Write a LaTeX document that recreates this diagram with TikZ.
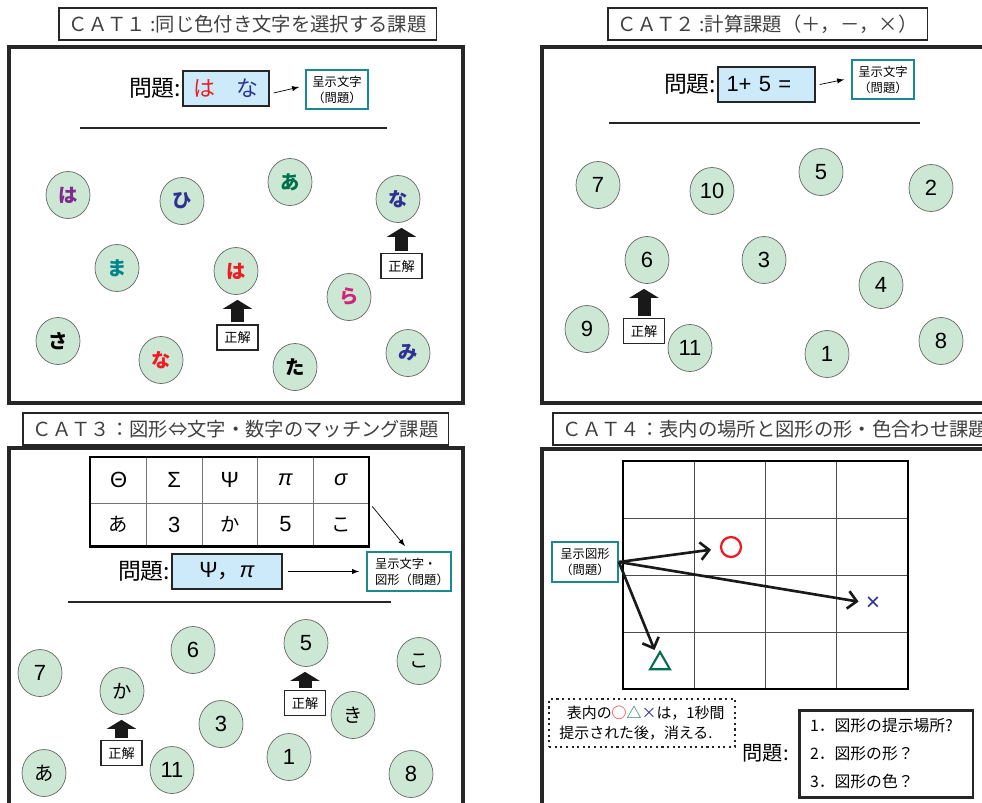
\documentclass[tikz,border=0pt]{standalone}
\usepackage{fontspec}
\setmainfont{Liberation Sans}
\newfontfamily\jp{Noto Sans CJK JP}
\usetikzlibrary{arrows,arrows.meta,shapes,positioning}
\definecolor{ballgreen}{HTML}{CDE7D5}
\definecolor{askblue}{HTML}{CCEAF9}
\definecolor{showteal}{HTML}{1A8A8E}
\definecolor{kpurple}{HTML}{7F2A8C}
\definecolor{knavy}{HTML}{2E3192}
\definecolor{kgreen}{HTML}{00704A}
\definecolor{kteal}{HTML}{00858A}
\definecolor{kred}{HTML}{ED1C24}
\definecolor{kmagenta}{HTML}{D0237A}
\newcommand\kn[1]{{\jp\fontsize{11}{13}\selectfont #1}}
\tikzset{
panel/.style={draw=black!85,line width=2pt},
cattitle/.style={draw=black!85,line width=0.9pt,anchor=west,minimum height=0.64cm,inner xsep=0.2cm,text=black!75,font=\jp\fontsize{11}{13}\selectfont},
ball/.style={ellipse,draw=black!60,fill=ballgreen,minimum width=0.88cm,minimum height=0.94cm,inner sep=0pt},
kanaball/.style={ball,font=\jp\bfseries\fontsize{11}{13}\selectfont},
numball/.style={ball,font=\fontsize{12.5}{14}\selectfont},
qword/.style={inner sep=0.5pt,font=\jp\fontsize{13}{15}\selectfont},
askbox/.style={draw=black!85,line width=0.8pt,fill=askblue,minimum height=0.7cm,inner sep=0pt,font=\fontsize{12.5}{14}\selectfont},
showbox/.style={draw=showteal,line width=1pt,minimum height=0.78cm,inner sep=0pt,align=center,font=\jp\fontsize{7}{9}\selectfont},
okbox/.style={draw=black!85,line width=0.8pt,fill=white,minimum width=0.82cm,minimum height=0.5cm,inner sep=0pt,font=\jp\fontsize{7.5}{9}\selectfont},
okarrow/.style={draw=black!90,line width=0.26cm,-{Triangle[width=0.58cm,length=0.18cm]},shorten >=0.1cm,shorten <=0.04cm},
sepline/.style={draw=black!85,line width=1pt},
cell/.style={draw=black!55,line width=0.5pt,minimum width=1.112cm,inner sep=0pt,font=\fontsize{12.5}{14}\selectfont},
bigarrow/.style={draw=black!90,line width=1.5pt,-{Straight Barb[length=5pt,width=10pt]}}
}
\begin{document}
\begin{tikzpicture}[x=0.02cm,y=-0.02cm]
\useasboundingbox (0,0) rectangle (982,802);

\node[cattitle] (t1) at (58,24) {ＣＡＴ１ :同じ色付き文字を選択する課題};
\draw[panel] (9,47) rectangle (463,403);
\node[askbox,minimum width=1.72cm,font=\jp\fontsize{12.5}{14}\selectfont] (ask1) at (226,88.5) {\textcolor{kred}{は}　\textcolor{knavy}{な}};
\node[qword,left=0pt of ask1] (q1) {問題:};
\node[showbox,minimum width=1.24cm] (show1) at (337,89.5) {呈示文字\\（問題）};
\draw[-latex] ([shift={(4,4.5)}]ask1.east) -- ([shift={(-6,-2.5)}]show1.west);
\draw[sepline] (80,128) -- (387,128);
\foreach \x/\y/\c/\k [count=\i] in {68/195/kpurple/は,182/201/knavy/ひ,290/182/kgreen/あ,398/199/knavy/な,117/268/kteal/ま,236/271/kred/は,349/297/kmagenta/ら,58/341/black/さ,161/360/kred/な,295/367/black/た,408/353/knavy/み}
  \node[kanaball,text=\c] (a\i) at (\x,\y) {\k};
\node[okbox] (ok1a) at (237.5,337.5) {正解};
\node[okbox] (ok1b) at (401.5,266) {正解};
\draw[okarrow] (ok1a.north) -- (ok1a.north |- a6.south);
\draw[okarrow] (ok1b.north) -- (ok1b.north |- a4.south);

\node[cattitle] (t2) at (607,24) {ＣＡＴ２ :計算課題（＋，－，×）};
\draw[panel] (542,47) rectangle (995,403);
\node[askbox,inner xsep=0.17cm,text width=1.6cm,align=left] (ask2) at (766.5,84.5) {1+ 5 =};
\node[qword,left=0pt of ask2] (q2) {問題:};
\node[showbox,minimum width=1.24cm] (show2) at (883,79.5) {呈示文字\\（問題）};
\draw[-latex] ([shift={(4,0)}]ask2.east) -- ([shift={(-7,0)}]show2.west);
\draw[sepline] (609,123) -- (920,123);
\foreach \x/\y/\n [count=\i] in {598/185/7,712/191/10,821/172/5,931/188/2,647/260/6,764/260/3,881/285/4,587/329/9,690/348/11,827/354/1,941/341/8}
  \node[numball] (n\i) at (\x,\y) {\n};
\node[okbox] (ok2) at (644,331) {正解};
\draw[okarrow] (ok2.north) -- (ok2.north |- n5.south);

\node[cattitle] (t3) at (22,429) {ＣＡＴ３：図形⇔文字・数字のマッチング課題};
\draw[panel] (9,448) rectangle (463,812);
\foreach \s [count=\i] in {Θ,Σ,Ψ,\textit{π},\textit{σ}}
  \node[cell,minimum height=0.92cm] (g\i) at (63+55.6*\i,480) {\s};
\foreach \s [count=\i] in {\kn{あ},3,\kn{か},5,\kn{こ}}
  \node[cell,minimum height=0.86cm] (h\i) at (63+55.6*\i,524.5) {\s};
\draw[line width=1.2pt] (g1.north west) rectangle (h5.south east);
\node[askbox,minimum width=2.2cm] (ask3) at (227,571.5) {Ψ{\jp ，}\textit{π}};
\node[qword,left=0pt of ask3] (q3) {問題:};
\node[showbox,minimum width=1.68cm,inner xsep=0.16cm,text width=1.36cm,align=left] (show3) at (409,571.5) {呈示文字・\\図形（問題）};
\draw[-latex] ([shift={(5,0)}]ask3.east) -- ([shift={(-7,0)}]show3.west);
\draw[-latex] ([shift={(3,3)}]g5.south east) -- ([shift={(-4,-5)}]show3.north);
\draw[sepline] (68,602) -- (391,602);
\foreach \x/\y/\k [count=\i] in {40/673/7,122/691/\kn{か},193/650/6,306/643/5,419/661/\kn{こ},221/724/3,353/715/\kn{き},289/757/1,44/773/\kn{あ},172/770/11,411/774/8}
  \node[numball] (m\i) at (\x,\y) {\k};
\node[okbox] (ok3a) at (121.5,753) {正解};
\node[okbox] (ok3b) at (305,703) {正解};
\draw[okarrow] (ok3a.north) -- (ok3a.north |- m2.south);
\draw[okarrow] (ok3b.north) -- (ok3b.north |- m4.south);

\node[cattitle] (t4) at (552,429) {ＣＡＴ４：表内の場所と図形の形・色合わせ課題};
\draw[panel] (542,449) rectangle (995,812);
\foreach \i in {1,2,3} {
  \draw[black!70,line width=0.5pt] (623+71.25*\i,461) -- (623+71.25*\i,689);
  \draw[black!70,line width=0.5pt] (623,461+57*\i) -- (908,461+57*\i);
}
\draw[line width=1.2pt] (623,461) rectangle (908,689);
\node[showbox,minimum width=1.32cm,minimum height=0.8cm] (show4) at (585,562) {呈示図形\\（問題）};
\node[circle,draw=kred,line width=1.3pt,minimum size=0.4cm,inner sep=0pt] (circ) at (731,547) {};
\node[text=knavy,inner sep=0pt,font=\fontsize{14}{14}\selectfont] (cross) at (873,604) {×};
\node[regular polygon,regular polygon sides=3,draw=kgreen,line width=1.2pt,minimum size=0.46cm,inner sep=0pt] (tri) at (660,663.5) {};
\draw[bigarrow,shorten >=0.18cm] (show4.east) -- (circ);
\draw[bigarrow,shorten >=0.14cm] (show4.east) -- (cross);
\draw[bigarrow,shorten >=0.12cm] (show4.east) -- (tri);
\node[draw=black!85,dotted,line width=1.2pt,minimum width=3.72cm,minimum height=0.96cm,align=left,font=\jp\fontsize{8.5}{11}\selectfont] (note4) at (642,723) {\hspace{0.5em}表内の\textcolor{kred}{○}\textcolor{kgreen}{△}\textcolor{knavy}{×}は，1秒間\\提示された後，消える.};
\node[draw=black!85,line width=1.7pt,minimum width=3.48cm,minimum height=1.74cm,inner xsep=0.22cm,text width=3.04cm,align=left,font=\jp\fontsize{9}{16.2}\selectfont] (ask4) at (886,753.5) {1．図形の提示場所?\\2．図形の形？\\3．図形の色？};
\node[qword,font=\jp\fontsize{11.5}{13}\selectfont,left=0.15cm of ask4] (q4) {問題:};
\end{tikzpicture}
\end{document}
